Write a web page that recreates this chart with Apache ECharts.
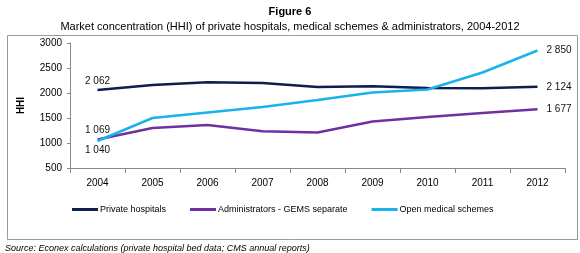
<!DOCTYPE html>
<html>
<head>
<meta charset="utf-8">
<script src="https://cdn.jsdelivr.net/npm/echarts@6/dist/echarts.min.js"></script>
<style>
  html, body { margin: 0; padding: 0; background: #fff; }
  #chart { width: 580px; height: 253px; }
</style>
</head>
<body>
<div id="chart"></div>
<script>
const years = ['2004', '2005', '2006', '2007', '2008', '2009', '2010', '2011', '2012'];
const privateHospitals = [2062, 2160, 2215, 2200, 2120, 2135, 2100, 2095, 2124];
const administrators = [1069, 1300, 1360, 1235, 1210, 1430, 1520, 1600, 1677];
const openSchemes = [1040, 1500, 1610, 1720, 1860, 2010, 2070, 2410, 2850];

const fmt = v => String(v).replace(/\B(?=(\d{3})+(?!\d))/g, ' ');

// label only the first and last points
function withLabels(values, firstPos) {
    return values.map((v, i) => {
        const item = { value: v, symbol: 'circle', symbolSize: 0.01 };
        if (i === 0) item.label = { show: true, position: firstPos, distance: 4 };
        else if (i === values.length - 1) item.label = { show: true, position: 'right', distance: 9 };
        return item;
    });
}

const chart = echarts.init(document.getElementById('chart'));
const font = 'Liberation Sans, Arial, sans-serif';

function line(name, color, values, firstPos) {
    return {
        name: name,
        type: 'line',
        data: withLabels(values, firstPos),
        showSymbol: true,
        lineStyle: { color: color, width: 2.5 },
        itemStyle: { color: color },
        label: { show: false, formatter: p => fmt(p.value), color: '#111', fontSize: 10, fontFamily: font },
        labelLayout: { hideOverlap: false },
        animation: false
    };
}

chart.setOption({
    animation: false,
    title: [
        { text: 'Figure 6', left: 'center', top: 1, textStyle: { fontSize: 11, fontWeight: 'bold', color: '#000', fontFamily: font } },
        { text: 'Market concentration (HHI) of private hospitals, medical schemes & administrators, 2004-2012', left: 'center', top: 16, textStyle: { fontSize: 11, fontWeight: 'normal', color: '#000', fontFamily: font } }
    ],
    graphic: [{
        type: 'rect', left: 5, top: 33, shape: { width: 570, height: 204 },
        style: { fill: 'none', stroke: '#999', lineWidth: 1 }, silent: true
    }, {
        type: 'text', x: 5, y: 248, silent: true,
        style: {
            text: 'Source: Econex calculations (private hospital bed data; CMS annual reports)',
            font: 'italic 9px Liberation Sans, Arial, sans-serif', fill: '#000', verticalAlign: 'middle'
        }
    }],
    grid: { left: 70, right: 15, top: 43, bottom: 85 },
    legend: {
        top: 200, left: 67, itemWidth: 26, itemHeight: 3, itemGap: 24,
        icon: 'rect',
        textStyle: { fontSize: 9, color: '#000', fontFamily: font, padding: [0, 0, 0, -3] }
    },
    xAxis: {
        type: 'category',
        data: years,
        boundaryGap: true,
        axisLine: { lineStyle: { color: '#888' } },
        axisTick: { show: true, length: 5, lineStyle: { color: '#888' } },
        axisLabel: { color: '#000', fontSize: 10, fontFamily: font, margin: 10 }
    },
    yAxis: {
        type: 'value',
        min: 500, max: 3000, interval: 500,
        name: 'HHI', nameLocation: 'middle', nameGap: 44, nameRotate: 90,
        nameTextStyle: { fontSize: 10, fontWeight: 'bold', color: '#000', fontFamily: font },
        axisLine: { show: true, lineStyle: { color: '#888' } },
        axisTick: { show: true, length: 3, lineStyle: { color: '#888' } },
        splitLine: { show: false },
        axisLabel: { color: '#000', fontSize: 10, fontFamily: font, margin: 8, formatter: v => String(v) }
    },
    series: [
        line('Private hospitals', '#0e1e4e', privateHospitals, 'top'),
        line('Administrators - GEMS separate', '#7030a0', administrators, 'top'),
        line('Open medical schemes', '#1ab2ea', openSchemes, 'bottom')
    ]
});

window.addEventListener('resize', () => chart.resize());
</script>
</body>
</html>
